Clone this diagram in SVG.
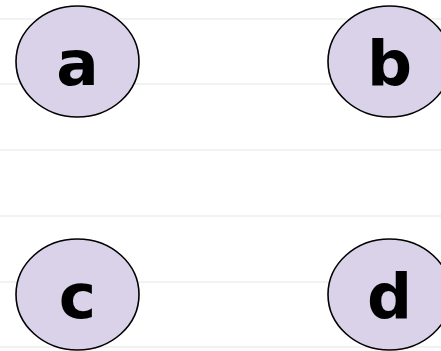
<svg xmlns="http://www.w3.org/2000/svg" width="441" height="351" viewBox="0 0 441 351">
<style>
.grid line{stroke:#f2f2f2;stroke-width:2}
.node ellipse{fill:#d9d2e9;stroke:#000;stroke-width:1.6}
.node text{font-family:"DejaVu Sans",sans-serif;font-weight:bold;font-size:63px;text-anchor:middle;fill:#000}
</style>
<rect width="441" height="351" fill="#fff"/>
<g class="grid">
<line x1="0" y1="19" x2="441" y2="19"/>
<line x1="0" y1="84" x2="441" y2="84"/>
<line x1="0" y1="150" x2="441" y2="150"/>
<line x1="0" y1="216" x2="441" y2="216"/>
<line x1="0" y1="282" x2="441" y2="282"/>
<line x1="0" y1="347" x2="441" y2="347"/>
</g>
<g id="connectors"></g>
<g id="a" class="node"><ellipse cx="77.5" cy="61.5" rx="61.5" ry="55.5"/><text x="77.5" y="85">a</text></g>
<g id="b" class="node"><ellipse cx="389.5" cy="61.5" rx="61.5" ry="55.5"/><text x="389.5" y="85">b</text></g>
<g id="c" class="node"><ellipse cx="77.5" cy="294.5" rx="61.5" ry="55.5"/><text x="77.5" y="318">c</text></g>
<g id="d" class="node"><ellipse cx="389.5" cy="294.5" rx="61.5" ry="55.5"/><text x="389.5" y="318">d</text></g>
</svg>
